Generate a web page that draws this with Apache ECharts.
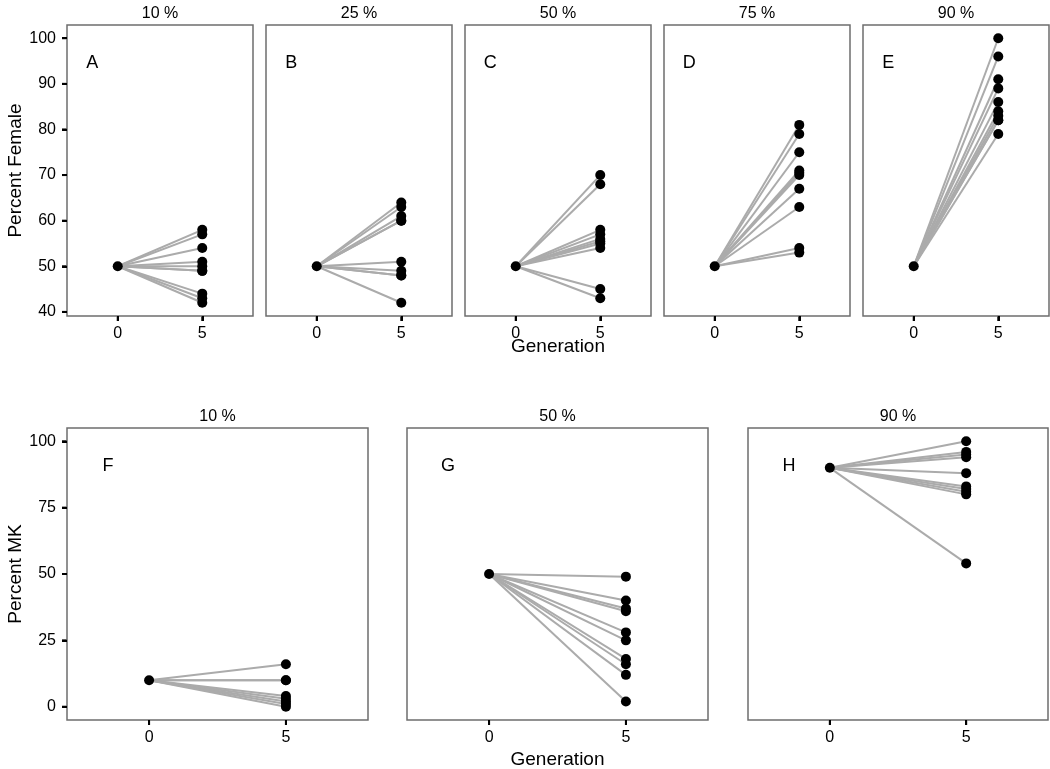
<!DOCTYPE html>
<html>
<head>
<meta charset="utf-8">
<script src="https://cdn.jsdelivr.net/npm/echarts@6/dist/echarts.min.js"></script>
<style>
html,body{margin:0;padding:0;background:#fff;}
#chart{width:1050px;height:769px;}
</style>
</head>
<body>
<div id="chart"></div>
<script>
// ---- Data ----
const generations = [0, 5];
const topTitles = ['10 %', '25 %', '50 %', '75 %', '90 %'];
const topLetters = ['A', 'B', 'C', 'D', 'E'];
const topStart = [50, 50, 50, 50, 50];
const femaleA = [58, 57, 54, 51, 50, 49, 49, 44, 43, 42];
const femaleB = [64, 63, 61, 60, 60, 51, 49, 48, 48, 42];
const femaleC = [70, 68, 58, 57, 56, 55.5, 55, 54, 45, 43];
const femaleD = [81, 79, 75, 71, 70.5, 70, 67, 63, 54, 53];
const femaleE = [100, 96, 91, 89, 86, 84, 83, 82, 82, 79];
const topEnds = [femaleA, femaleB, femaleC, femaleD, femaleE];
const topYTicks = [40, 50, 60, 70, 80, 90, 100];

const bottomTitles = ['10 %', '50 %', '90 %'];
const bottomLetters = ['F', 'G', 'H'];
const bottomStart = [10, 50, 90];
const mkF = [16, 10, 10, 4, 3, 2, 1, 0];
const mkG = [49, 40, 37, 36, 28, 25, 18, 16, 12, 2];
const mkH = [100, 96, 95, 94, 88, 83, 82, 81, 80, 54];
const bottomEnds = [mkF, mkG, mkH];
const bottomYTicks = [0, 25, 50, 75, 100];

// ---- Layout ----
const FONT = 'Liberation Sans, Arial, sans-serif';
const X_MIN = -3, X_MAX = 8;
const topGrids = [67, 266, 465, 664, 863].map(l => ({left: l, top: 25, width: 186, height: 291}));
const bottomGrids = [{left: 67, w: 301}, {left: 407, w: 301}, {left: 748, w: 300}].map(g => ({left: g.left, top: 428, width: g.w, height: 292}));

const grids = [], xAxes = [], yAxes = [], series = [], titles = [];
const tickSpecs = [];

function addPanel(idx, g, start, ends, yMin, yMax, yTicks, showY, yName, title, letter) {
  grids.push(Object.assign({show: true, borderColor: '#6e6e6e', borderWidth: 1.5}, g));
  xAxes.push({
    type: 'value', gridIndex: idx, min: X_MIN, max: X_MAX,
    axisLine: {show: false, onZero: true, onZeroAxisIndex: 999}, splitLine: {show: false},
    axisTick: {show: true, length: 5, lineStyle: {color: '#000', width: 2}, customValues: generations},
    axisLabel: {show: true, color: '#000', fontSize: 16, fontFamily: FONT, margin: 10, customValues: generations}
  });
  yAxes.push({
    type: 'value', gridIndex: idx, min: yMin, max: yMax,
    axisLine: {show: false, onZero: true, onZeroAxisIndex: 999}, splitLine: {show: false},
    axisTick: {show: showY, length: 5, lineStyle: {color: '#000', width: 2}, customValues: yTicks},
    axisLabel: {show: showY, color: '#000', fontSize: 16, fontFamily: FONT, margin: 11, customValues: yTicks},
    name: yName, nameLocation: 'middle', nameGap: 42, nameRotate: 90, nameMoveOverlap: false,
    nameTextStyle: {fontSize: 19, color: '#000', fontFamily: FONT}
  });
  ends.forEach(v => {
    series.push({
      type: 'line', xAxisIndex: idx, yAxisIndex: idx,
      data: [[generations[0], start], [generations[1], v]],
      symbol: 'none', lineStyle: {color: '#ababab', width: 2}, silent: true, z: 2, animation: false
    });
  });
  const pts = [[generations[0], start]].concat(ends.map(v => [generations[1], v]));
  series.push({
    type: 'scatter', xAxisIndex: idx, yAxisIndex: idx, data: pts,
    symbolSize: 10, itemStyle: {color: '#000', opacity: 1}, z: 3, animation: false
  });
  tickSpecs.push({idx: idx, yMin: yMin, yTicks: showY ? yTicks : []});
  titles.push({
    text: title, left: g.left + g.width / 2, top: g.top - 19, textAlign: 'center', padding: 0,
    textStyle: {fontSize: 16, fontWeight: 'normal', color: '#000', fontFamily: FONT}
  });
  titles.push({
    text: letter, left: g.left + g.width * (1.5 / 11), top: g.top + 29, textAlign: 'center', padding: 0,
    textStyle: {fontSize: 18, fontWeight: 'normal', color: '#000', fontFamily: FONT}
  });
}

topGrids.forEach((g, i) => {
  addPanel(i, g, topStart[i], topEnds[i], 39.1, 102.9, topYTicks, i === 0,
    i === 0 ? 'Percent Female' : '', topTitles[i], topLetters[i]);
});
bottomGrids.forEach((g, i) => {
  addPanel(5 + i, g, bottomStart[i], bottomEnds[i], -5, 105, bottomYTicks, i === 0,
    i === 0 ? 'Percent MK' : '', bottomTitles[i], bottomLetters[i]);
});
titles.push({
  text: 'Generation', left: topGrids[2].left + topGrids[2].width / 2, top: 337, textAlign: 'center', padding: 0,
  textStyle: {fontSize: 19, fontWeight: 'normal', color: '#000', fontFamily: FONT}
});
titles.push({
  text: 'Generation', left: bottomGrids[1].left + bottomGrids[1].width / 2, top: 750, textAlign: 'center', padding: 0,
  textStyle: {fontSize: 19, fontWeight: 'normal', color: '#000', fontFamily: FONT}
});

const chart = echarts.init(document.getElementById('chart'), null, {renderer: 'canvas'});
chart.setOption({
  backgroundColor: '#fff',
  animation: false,
  title: titles,
  grid: grids,
  xAxis: xAxes,
  yAxis: yAxes,
  series: series
});

// Tick marks placed through the axes' own scales (convertToPixel)
const tickEls = [];
tickSpecs.forEach(s => {
  const finder = {xAxisIndex: s.idx, yAxisIndex: s.idx};
  generations.forEach(t => {
    const p = chart.convertToPixel(finder, [t, s.yMin]);
    tickEls.push({type: 'line', silent: true, z: 100,
      shape: {x1: p[0], y1: p[1] + 0.5, x2: p[0], y2: p[1] + 5},
      style: {stroke: '#000', lineWidth: 2}});
  });
  s.yTicks.forEach(t => {
    const p = chart.convertToPixel(finder, [X_MIN, t]);
    tickEls.push({type: 'line', silent: true, z: 100,
      shape: {x1: p[0] - 5, y1: p[1], x2: p[0] - 0.5, y2: p[1]},
      style: {stroke: '#000', lineWidth: 2}});
  });
});
chart.setOption({graphic: {elements: tickEls}});
</script>
</body>
</html>
